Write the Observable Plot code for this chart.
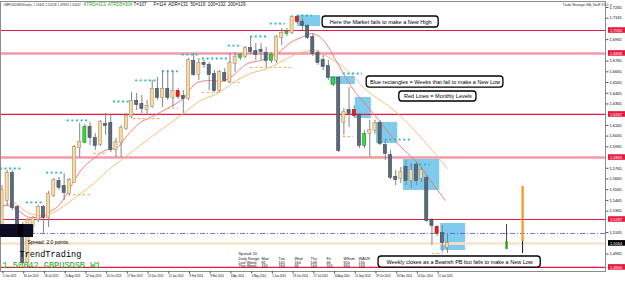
<!DOCTYPE html>
<html><head><meta charset="utf-8">
<script src="https://cdn.jsdelivr.net/npm/d3@7"></script>
<script src="https://cdn.jsdelivr.net/npm/@observablehq/plot@0.6"></script>
<style>
html,body{margin:0;padding:0;background:#fff;overflow:hidden}
#chart svg{display:block}
</style></head><body><div id="chart"></div>
<script>
// ---- weekly candles (week index 0 = 2 Jun 2013) ----
const opens = [1.5212,1.5464,1.5716,1.5399,1.5212,1.4886,1.5222,1.5287,1.5399,1.5306,
1.5511,1.5642,1.5595,1.5530,1.5632,1.5959,1.6005,1.6145,1.6043,1.5987,
1.6173,1.6183,1.5940,1.6005,1.6136,1.6248,1.6388,1.6360,1.6313,1.6341,
1.6500,1.6425,1.6500,1.6425,1.6481,1.6435,1.6416,1.6761,1.6640,1.6742,
1.6724,1.6640,1.6490,1.6649,1.6574,1.6742,1.6798,1.6808,1.6882,1.6854,
1.6864,1.6836,1.6770,1.6770,1.6985,1.7022,1.7031,1.7171,1.7125,1.7087,
1.6985,1.6836,1.6770,1.6714,1.6546,1.6602,1.6192,1.6304,1.6304,1.6257,
1.5977,1.6089,1.6117,1.6183,1.5977,1.5884,1.5679,1.5670,1.5772,1.5651,
1.5791,1.5670,1.5670,1.5278,1.5212,1.5157,1.5026];
const highs = [1.5604,1.5744,1.5744,1.5418,1.5259,1.5297,1.5315,1.5418,1.5418,1.5548,
1.5670,1.5679,1.5716,1.5670,1.5977,1.6183,1.6173,1.6192,1.6089,1.6211,
1.6276,1.6257,1.6043,1.6164,1.6276,1.6472,1.6462,1.6444,1.6397,1.6584,
1.6612,1.6677,1.6677,1.6677,1.6509,1.6490,1.6789,1.6836,1.6789,1.6770,
1.6752,1.6677,1.6677,1.6696,1.6836,1.6845,1.6836,1.6901,1.6985,1.6929,
1.6929,1.6892,1.6845,1.7004,1.7069,1.7069,1.7190,1.7190,1.7162,1.7106,
1.7022,1.6864,1.6817,1.6770,1.6621,1.6621,1.6323,1.6518,1.6351,1.6276,
1.6117,1.6211,1.6211,1.6211,1.6024,1.5931,1.5744,1.5772,1.5837,1.5791,
1.5819,1.5772,1.5698,1.5297,1.5231,1.5231,1.5157];
const lows = [1.5166,1.5418,1.5371,1.5166,1.4867,1.4830,1.5157,1.5259,1.5157,1.5212,
1.5492,1.5558,1.5464,1.5502,1.5623,1.5865,1.5996,1.5977,1.5931,1.5968,
1.6071,1.5912,1.5865,1.5865,1.6117,1.6229,1.6304,1.6276,1.6257,1.6323,
1.6397,1.6332,1.6397,1.6332,1.6407,1.6276,1.6397,1.6621,1.6584,1.6696,
1.6490,1.6472,1.6472,1.6565,1.6556,1.6658,1.6770,1.6789,1.6826,1.6770,
1.6770,1.6705,1.6742,1.6742,1.6910,1.6994,1.7013,1.7106,1.7050,1.6966,
1.6808,1.6724,1.6677,1.6584,1.6528,1.5912,1.6071,1.6145,1.6229,1.5949,
1.5949,1.5865,1.6080,1.5977,1.5837,1.5660,1.5604,1.5623,1.5604,1.5576,
1.5604,1.5632,1.5259,1.5045,1.5129,1.4979,1.4970];
const closes = [1.5558,1.5716,1.5399,1.5212,1.4886,1.5278,1.5297,1.5399,1.5306,1.5520,
1.5651,1.5586,1.5539,1.5651,1.5959,1.6005,1.6145,1.6052,1.5977,1.6192,
1.6164,1.5940,1.6005,1.6136,1.6248,1.6388,1.6360,1.6323,1.6341,1.6500,
1.6425,1.6500,1.6425,1.6481,1.6435,1.6416,1.6770,1.6640,1.6742,1.6733,
1.6640,1.6490,1.6658,1.6584,1.6742,1.6798,1.6817,1.6882,1.6854,1.6826,
1.6854,1.6770,1.6817,1.6985,1.7022,1.7031,1.7171,1.7134,1.7097,1.6985,
1.6836,1.6752,1.6714,1.6612,1.6602,1.5931,1.6285,1.6276,1.6257,1.5977,
1.6080,1.6117,1.6183,1.5996,1.5903,1.5679,1.5660,1.5725,1.5651,1.5744,
1.5651,1.5744,1.5278,1.5231,1.5157,1.5073,1.5064];
const greenWeeks = [16,46,52,55,64,70];
const redWeeks = [34,57,68,84];

// ---- time axis ----
const tickWeeks = [0,4,8,12,16,20,24,28,32,36,40,44,48,52,56,60,64,68,72,76,80,84];
const tickLabels = ["2 Jun 2013","30 Jun 2013","28 Jul 2013","25 Aug 2013","22 Sep 2013","20 Oct 2013",
"17 Nov 2013","15 Dec 2013","12 Jan 2014","9 Feb 2014","9 Mar 2014","6 Apr 2014","4 May 2014",
"1 Jun 2014","29 Jun 2014","27 Jul 2014","24 Aug 2014","21 Sep 2014","19 Oct 2014","16 Nov 2014",
"14 Dec 2014","11 Jan 2015"];
// ---- price axis ----
const priceTicks = [1.4865,1.4965,1.5065,1.5165,1.5265,1.5365,1.5465,1.5565,1.5665,1.5765,1.5865,
1.5965,1.6065,1.6165,1.6265,1.6365,1.6465,1.6565,1.6665,1.6765,1.6865,1.6965,1.7065,1.7165,1.7265];
const currentPrice = 1.50642;
const dashDotLevel = 1.5157;

// ---- monthly levels ----
const monthlyLevels = [1.7050, 1.6267, 1.5287, 1.4840];
const monthlyLevelsDouble = [1.6836, 1.5865];

// ---- moving averages [week, price] ----
const fastMA = [[-0.3,1.5399],[0.7,1.5418],[2.2,1.5399],[5.5,1.5306],[8.0,1.5306],[8.8,1.5343],[11.3,1.5436],[13.2,1.5586],[15.2,1.5744],[17.7,1.5856],[20.4,1.5940],[21.9,1.5949],[24.2,1.6071],[26.7,1.6192],[28.7,1.6239],[31.9,1.6323],[35.0,1.6416],[37.7,1.6565],[40.3,1.6584],[42.2,1.6574],[44.1,1.6612],[47.4,1.6742],[49.9,1.6770],[53.2,1.6836],[55.7,1.6938],[58.2,1.6994],[59.6,1.7022],[62.1,1.6957],[64.8,1.6742],[67.3,1.6537],[71.7,1.6276],[76.4,1.5996],[81.4,1.5744],[82.7,1.5651],[85.6,1.5464]];
const slowMA = [[-0.3,1.5399],[2.2,1.5436],[4.9,1.5352],[7.4,1.5324],[9.9,1.5352],[12.6,1.5436],[15.2,1.5530],[17.7,1.5623],[20.4,1.5744],[22.9,1.5837],[25.4,1.5931],[28.7,1.6052],[35.0,1.6276],[38.3,1.6397],[41.6,1.6462],[44.7,1.6565],[48.0,1.6649],[51.3,1.6696],[54.3,1.6770],[57.6,1.6845],[60.1,1.6864],[63.4,1.6789],[66.7,1.6677],[69.8,1.6518],[76.4,1.6276],[81.4,1.6024],[84.7,1.5837],[86.0,1.5763]];

// ---- swing high / low marks [fromWeek, toWeek, price] ----
const swingHighs = [[-0.3,4.0,1.5763],[4.7,8.0,1.5446],[8.6,12.1,1.5725],[12.6,17.1,1.6211],[21.5,24.8,1.6388],[25.8,30.0,1.6584],[31.0,34.1,1.6668],[34.8,38.3,1.6826],[38.7,43.5,1.6789],[43.7,46.4,1.6910],[48.0,51.3,1.6994],[51.8,54.7,1.7115],[57.0,59.9,1.7190],[65.9,69.6,1.6649],[74.0,78.9,1.6033],[78.9,82.7,1.5800]];
const swingLows = [[13.8,17.1,1.5520],[17.7,20.0,1.5903],[25.4,30.6,1.6229],[32.0,34.1,1.6323],[38.7,42.2,1.6472],[43.7,46.4,1.6565],[48.0,56.3,1.6705],[65.9,67.9,1.6061],[70.2,74.0,1.5875],[83.1,85.2,1.4970]];

// ---- blue rectangles [fromWeek, toWeek, top, bottom] ----
const blueRects = [[57.05,61.5,1.7190,1.7087],[63.4,68.2,1.6621,1.6546],[68.2,71.3,1.6425,1.6229],[72.3,76.4,1.6192,1.5996],[77.5,84.5,1.5847,1.5558],[84.7,89.5,1.5250,1.4998]];

// ---- daily range bars [week, top, mid, bottom] ----
const rangeBarA = [97.4, 1.5241, 1.5082, 1.5007];
const rangeBarB = [100.5, 1.5595, 1.5082, 1.4970];

// ---- callouts ----
const callouts = [
 {x1:61.9,x2:84.3,top:1.7181,bottom:1.7078,text:"Here the Market fails to make a New High"},
 {x1:70.4,x2:96.8,top:1.6621,bottom:1.6518,text:"Blue rectangles = Weeks that fail to make a New Low"},
 {x1:76.7,x2:91.6,top:1.6481,bottom:1.6388,text:"Red Lines = Monthly Levels"},
 {x1:72.7,x2:104.0,top:1.4942,bottom:1.4839,text:"Weekly closes as a Bearish PB but fails to make a New Low"}
];

// ---- info panel ----
const tableCols = ["Mon","Tue","Wed","Thu","Fri","WSum","WADR"];
const lastWeek = ["81","142","160","148","66","650","130"];
const thisWeek = ["116","164","66","144","161","650","134"];

// ================= build =================
const xDomain = [-0.2896, 116.506];
const yDomain = [1.48020, 1.73207];
const pxW = 5.18, pxP = 1072;

const candles = opens.map((o,i)=>({i, o, h:highs[i], l:lows[i], c:closes[i],
  kind: greenWeeks.includes(i) ? "green" : redWeeks.includes(i) ? "red" : (closes[i] >= o ? "up" : "down")}));
const fills = {up:"#fcd99f", down:"#5b6a7b", green:"#38d838", red:"#ee1c1c"};
const strokes = {up:"#a88f6c", down:"#3d4856", green:"#1f8f1f", red:"#a01010"};

const bodyMark = kind => Plot.rect(candles.filter(d=>d.kind===kind), {
  x1: d=>d.i-0.3, x2: d=>d.i+0.3,
  y1: d=>Math.min(d.o,d.c), y2: d=>Math.max(d.o,d.c),
  insetTop:-0.4, insetBottom:-0.4,
  fill: fills[kind], stroke: strokes[kind], strokeWidth:0.6});

const xEnd = xDomain[1];
const lbx1 = xEnd + 3/pxW, lbx2 = xEnd + 21/pxW, half = 2.8/pxP;
const axisBoxes = [...monthlyLevels, ...monthlyLevelsDouble];
const boxed = [...axisBoxes, currentPrice];
const shownTicks = priceTicks.filter(t => boxed.every(b => Math.abs(b - t) > 6.5/pxP));

const ft = (text, x, y, opts={}) => Plot.text([text], {text:d=>d, frameAnchor:"top-left", dx:x, dy:y-1,
  textAnchor:"start", lineAnchor:"middle", fontSize:4.5, fill:"#111", ...opts});

const tableMarks = [
  ft("Spread: 20", 238, 253.5, {fontSize:3.8}),
  ft("Daily Range:", 238, 258.5, {fontSize:3.8}),
  ft("Last Week:", 238, 262, {fontSize:3.8}),
  ft("This Week:", 238, 265.5, {fontSize:3.8}),
];
const colX = [261,278,294,310,326,343,358];
tableCols.forEach((c,k)=>{
  tableMarks.push(ft(c, colX[k], 258.5, {fontSize:3.8}));
  tableMarks.push(ft(lastWeek[k], colX[k], 262, {fontSize:3.8}));
  tableMarks.push(ft(thisWeek[k], colX[k], 265.5, {fontSize:3.8}));
});

const chart = Plot.plot({
  width:625, height:281,
  marginLeft:0, marginRight:20, marginTop:1, marginBottom:10,
  x:{domain:xDomain},
  y:{domain:yDomain},
  style:{fontFamily:"'Liberation Sans', Arial, sans-serif", background:"#fff", color:"#000"},
  marks:[
    Plot.rect(blueRects, {x1:d=>d[0], x2:d=>d[1], y1:d=>d[3], y2:d=>d[2], fill:"#7fcbee"}),
    Plot.ruleY([currentPrice], {stroke:"#fde2c6", strokeWidth:2.5}),
    Plot.ruleY([dashDotLevel], {stroke:"#5a5af5", strokeWidth:0.9, strokeDasharray:"5,2,1,2"}),
    Plot.ruleY(monthlyLevelsDouble, {stroke:"#f29aaa", strokeWidth:2.6}),
    Plot.ruleY(monthlyLevels, {stroke:"#e8193f", strokeWidth:1.2}),
    Plot.line(slowMA, {x:d=>d[0], y:d=>d[1], stroke:"#f8b46e", strokeWidth:0.9, curve:"monotone-x"}),
    Plot.line(fastMA, {x:d=>d[0], y:d=>d[1], stroke:"#f07272", strokeWidth:0.9, curve:"monotone-x"}),
    Plot.ruleY(swingHighs, {x1:d=>d[0], x2:d=>d[1], y:d=>d[2], stroke:"#2fb8b8", strokeWidth:1.8, strokeDasharray:"2,2.6"}),
    Plot.ruleY(swingLows, {x1:d=>d[0], x2:d=>d[1], y:d=>d[2], stroke:"#f6b063", strokeWidth:1.2, strokeDasharray:"2.4,2.4"}),
    Plot.ruleX(candles, {x:"i", y1:"l", y2:"h", stroke:"#7e868f", strokeWidth:1}),
    bodyMark("up"), bodyMark("down"), bodyMark("green"), bodyMark("red"),
    // daily range bars
    Plot.ruleX([rangeBarA], {x:d=>d[0], y1:d=>d[3], y2:d=>d[1], stroke:"#444", strokeWidth:1}),
    Plot.ruleX([rangeBarA], {x:d=>d[0], y1:d=>d[3], y2:d=>d[2], stroke:"#1b961b", strokeWidth:2.2}),
    Plot.ruleX([rangeBarB], {x:d=>d[0], y1:d=>d[2], y2:d=>d[1], stroke:"#f7931e", strokeWidth:2.2}),
    Plot.ruleX([rangeBarB], {x:d=>d[0], y1:d=>d[3], y2:d=>d[2], stroke:"#111", strokeWidth:1}),
    // callouts
    Plot.rect(callouts, {x1:"x1", x2:"x2", y1:"bottom", y2:"top", fill:"#fff", stroke:"#000", strokeWidth:1.3, rx:3}),
    Plot.text(callouts, {x:d=>(d.x1+d.x2)/2, y:d=>(d.top+d.bottom)/2, text:"text", fontSize:5.5, fill:"#000"}),
    // frame
    Plot.frame({stroke:"#8c8c8c", strokeWidth:1}),
    // axes
    Plot.axisY({anchor:"right", ticks:shownTicks, tickSize:2.5, tickPadding:1.5, fontSize:4,
      tickFormat:d=>d.toFixed(4), stroke:"#555"}),
    Plot.rect(axisBoxes, {x1:lbx1, x2:lbx2, y1:d=>d-half, y2:d=>d+half, fill:"#e8193f"}),
    Plot.text(axisBoxes, {x:lbx1, y:d=>d, dx:1.5, text:d=>d.toFixed(4), textAnchor:"start", fontSize:4, fill:"#fff"}),
    Plot.rect([currentPrice], {x1:lbx1, x2:lbx2, y1:d=>d-half, y2:d=>d+half, fill:"#000"}),
    Plot.text([currentPrice], {x:lbx1, y:d=>d, dx:1.5, text:d=>d.toFixed(4), textAnchor:"start", fontSize:4, fill:"#fff"}),
    Plot.axisX({anchor:"bottom", ticks:tickWeeks, tickSize:2.5, tickPadding:1, fontSize:2.7,
      tickFormat:d=>tickLabels[tickWeeks.indexOf(d)], textAnchor:"start", dx:1, stroke:"#555"}),
    // screen labels
    Plot.rect([0], {x1:xDomain[0], x2:6.08, y1:1.5119, y2:1.5240, fill:"#0c0c22"}),
    Plot.rect([0], {x1:3.2, x2:4.2, y1:1.5119, y2:1.5240, fill:"#000"}),
    ft("GBPUSDSB,Weekly  1.50642 1.50428 1.49963 1.50642", 3, 4, {fontSize:3.1, fill:"#333"}),
    ft("ATRD=313  ATRD5=304", 83, 4, {fontSize:4.5, fill:"#1fa31f"}),
    ft("T=107", 133, 4, {fontSize:4.5}),
    ft("F=114  ADR=131  50=119  100=132  200=129", 153, 4, {fontSize:4.5}),
    ft("Trade Manager EA_NetE V1.0 \u263A", 562, 4, {fontSize:3.4, fill:"#333"}),
    ft("Spread: 2.0 points.", 27, 241.5, {fontSize:5, fill:"#000"}),
    ft("TrendTrading", 19, 253.5, {fontSize:8.6, fontFamily:"'Liberation Mono', 'DejaVu Sans Mono', monospace", fill:"#000"}),
    ft("1.50642 GBPUSDSB W1", 2, 265, {fontSize:8.6, fontFamily:"'Liberation Mono', 'DejaVu Sans Mono', monospace", fill:"#22a022"}),
    ...tableMarks
  ]
});
document.getElementById("chart").appendChild(chart);
</script>
</body></html>
